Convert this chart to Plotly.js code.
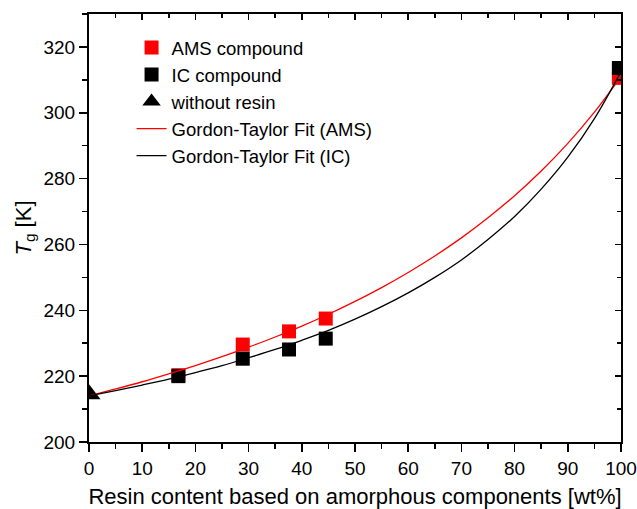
<!DOCTYPE html>
<html>
<head>
<meta charset="utf-8">
<script src="https://cdn.plot.ly/plotly-3.0.1.min.js"></script>
<style>html,body{margin:0;padding:0;background:#fff;}#chart{width:637px;height:509px;}</style>
</head>
<body>
<div id="chart"></div>
<script>
// Measured points
const amsX = [16.8, 28.9, 37.6, 44.5, 99.6];
const amsY = [220.3, 229.6, 233.6, 237.5, 310.6];
const icX  = [16.8, 28.9, 37.6, 44.5, 99.6];
const icY  = [220.0, 225.3, 228.1, 231.4, 313.6];
const noResinX = [0];
const noResinY = [214.5];

// Fit curves
const fitX = [0,5,10,15,20,25,30,35,40,45,50,55,60,65,70,75,80,85,90,95,100];
const fitAmsY = [214.0,216.1,218.3,220.7,223.2,225.9,228.8,231.9,235.2,238.8,242.7,246.9,251.5,256.5,262.0,268.1,274.8,282.3,290.7,300.2,311.0];
const fitIcY  = [214.0,215.6,217.3,219.1,221.1,223.2,225.6,228.1,230.9,233.9,237.3,241.1,245.3,250.0,255.3,261.5,268.5,276.8,286.5,298.2,312.5];

const xTicks = [0,10,20,30,40,50,60,70,80,90,100];
const yTicks = [200,220,240,260,280,300,320];

const FONT = 'Liberation Sans, Arial, sans-serif';

const traces = [
  {x: amsX, y: amsY, mode: 'markers', name: 'AMS compound',
   marker: {symbol: 'square', size: 14, color: '#ff0000'}},
  {x: icX, y: icY, mode: 'markers', name: 'IC compound',
   marker: {symbol: 'square', size: 14, color: '#000000'}},
  {x: noResinX, y: noResinY, mode: 'markers', name: 'without resin',
   marker: {symbol: 'triangle-up', size: 20, color: '#000000'}},
  {x: fitX, y: fitAmsY, mode: 'lines', name: 'Gordon-Taylor Fit (AMS)',
   line: {color: '#ff0000', width: 1.3, shape: 'spline'}},
  {x: fitX, y: fitIcY, mode: 'lines', name: 'Gordon-Taylor Fit (IC)',
   line: {color: '#000000', width: 1.3, shape: 'spline'}},
  // empty helper trace so the mirrored frame axes (top/right) are drawn
  {x: [], y: [], xaxis: 'x2', yaxis: 'y2', mode: 'markers', showlegend: false, hoverinfo: 'skip'}
];

const axCommon = {
  showgrid: false, zeroline: false, showline: true, linecolor: '#000', linewidth: 2,
  tickcolor: '#000', tickwidth: 1.5
};

const layout = {
  width: 637, height: 509,
  margin: {l: 89, r: 16, t: 14, b: 67},
  paper_bgcolor: '#fff', plot_bgcolor: '#fff',
  font: {family: FONT, color: '#000', size: 19},
  showlegend: true,
  legend: {x: 0.08, y: 0.965, xanchor: 'left', yanchor: 'top', bgcolor: 'rgba(0,0,0,0)',
           font: {family: FONT, size: 18.5, color: '#000'}, tracegroupgap: 0, itemwidth: 30},
  xaxis: Object.assign({}, axCommon, {
    range: [0, 100], tickvals: xTicks, ticktext: xTicks.map(String),
    ticks: 'outside', ticklen: 8,
    minor: {dtick: 5, ticks: 'outside', ticklen: 5, tickwidth: 1.5, tickcolor: '#000'},
    tickfont: {family: FONT, size: 19, color: '#000'},
    title: {text: 'Resin content based on amorphous components [wt%]', font: {family: FONT, size: 22, color: '#000'}, standoff: 12}
  }),
  yaxis: Object.assign({}, axCommon, {
    range: [200, 330], tickvals: yTicks, ticktext: yTicks.map(String),
    ticks: 'outside', ticklen: 8,
    minor: {dtick: 10, ticks: 'outside', ticklen: 5, tickwidth: 1.5, tickcolor: '#000'},
    tickfont: {family: FONT, size: 19, color: '#000'},
    title: {text: '<i>T</i><sub>g</sub> [K]', font: {family: FONT, size: 22, color: '#000'}, standoff: 6}
  }),
  xaxis2: Object.assign({}, axCommon, {
    overlaying: 'x', side: 'top', range: [0, 100], tickvals: xTicks,
    ticks: 'inside', ticklen: 6, showticklabels: false,
    minor: {dtick: 5, ticks: 'inside', ticklen: 4, tickwidth: 1.5, tickcolor: '#000'}
  }),
  yaxis2: Object.assign({}, axCommon, {
    overlaying: 'y', side: 'right', range: [200, 330], tickvals: yTicks,
    ticks: 'inside', ticklen: 6, showticklabels: false,
    minor: {dtick: 10, ticks: 'inside', ticklen: 4, tickwidth: 1.5, tickcolor: '#000'}
  })
};

Plotly.newPlot('chart', traces, layout, {displayModeBar: false, staticPlot: true});
</script>
</body>
</html>
